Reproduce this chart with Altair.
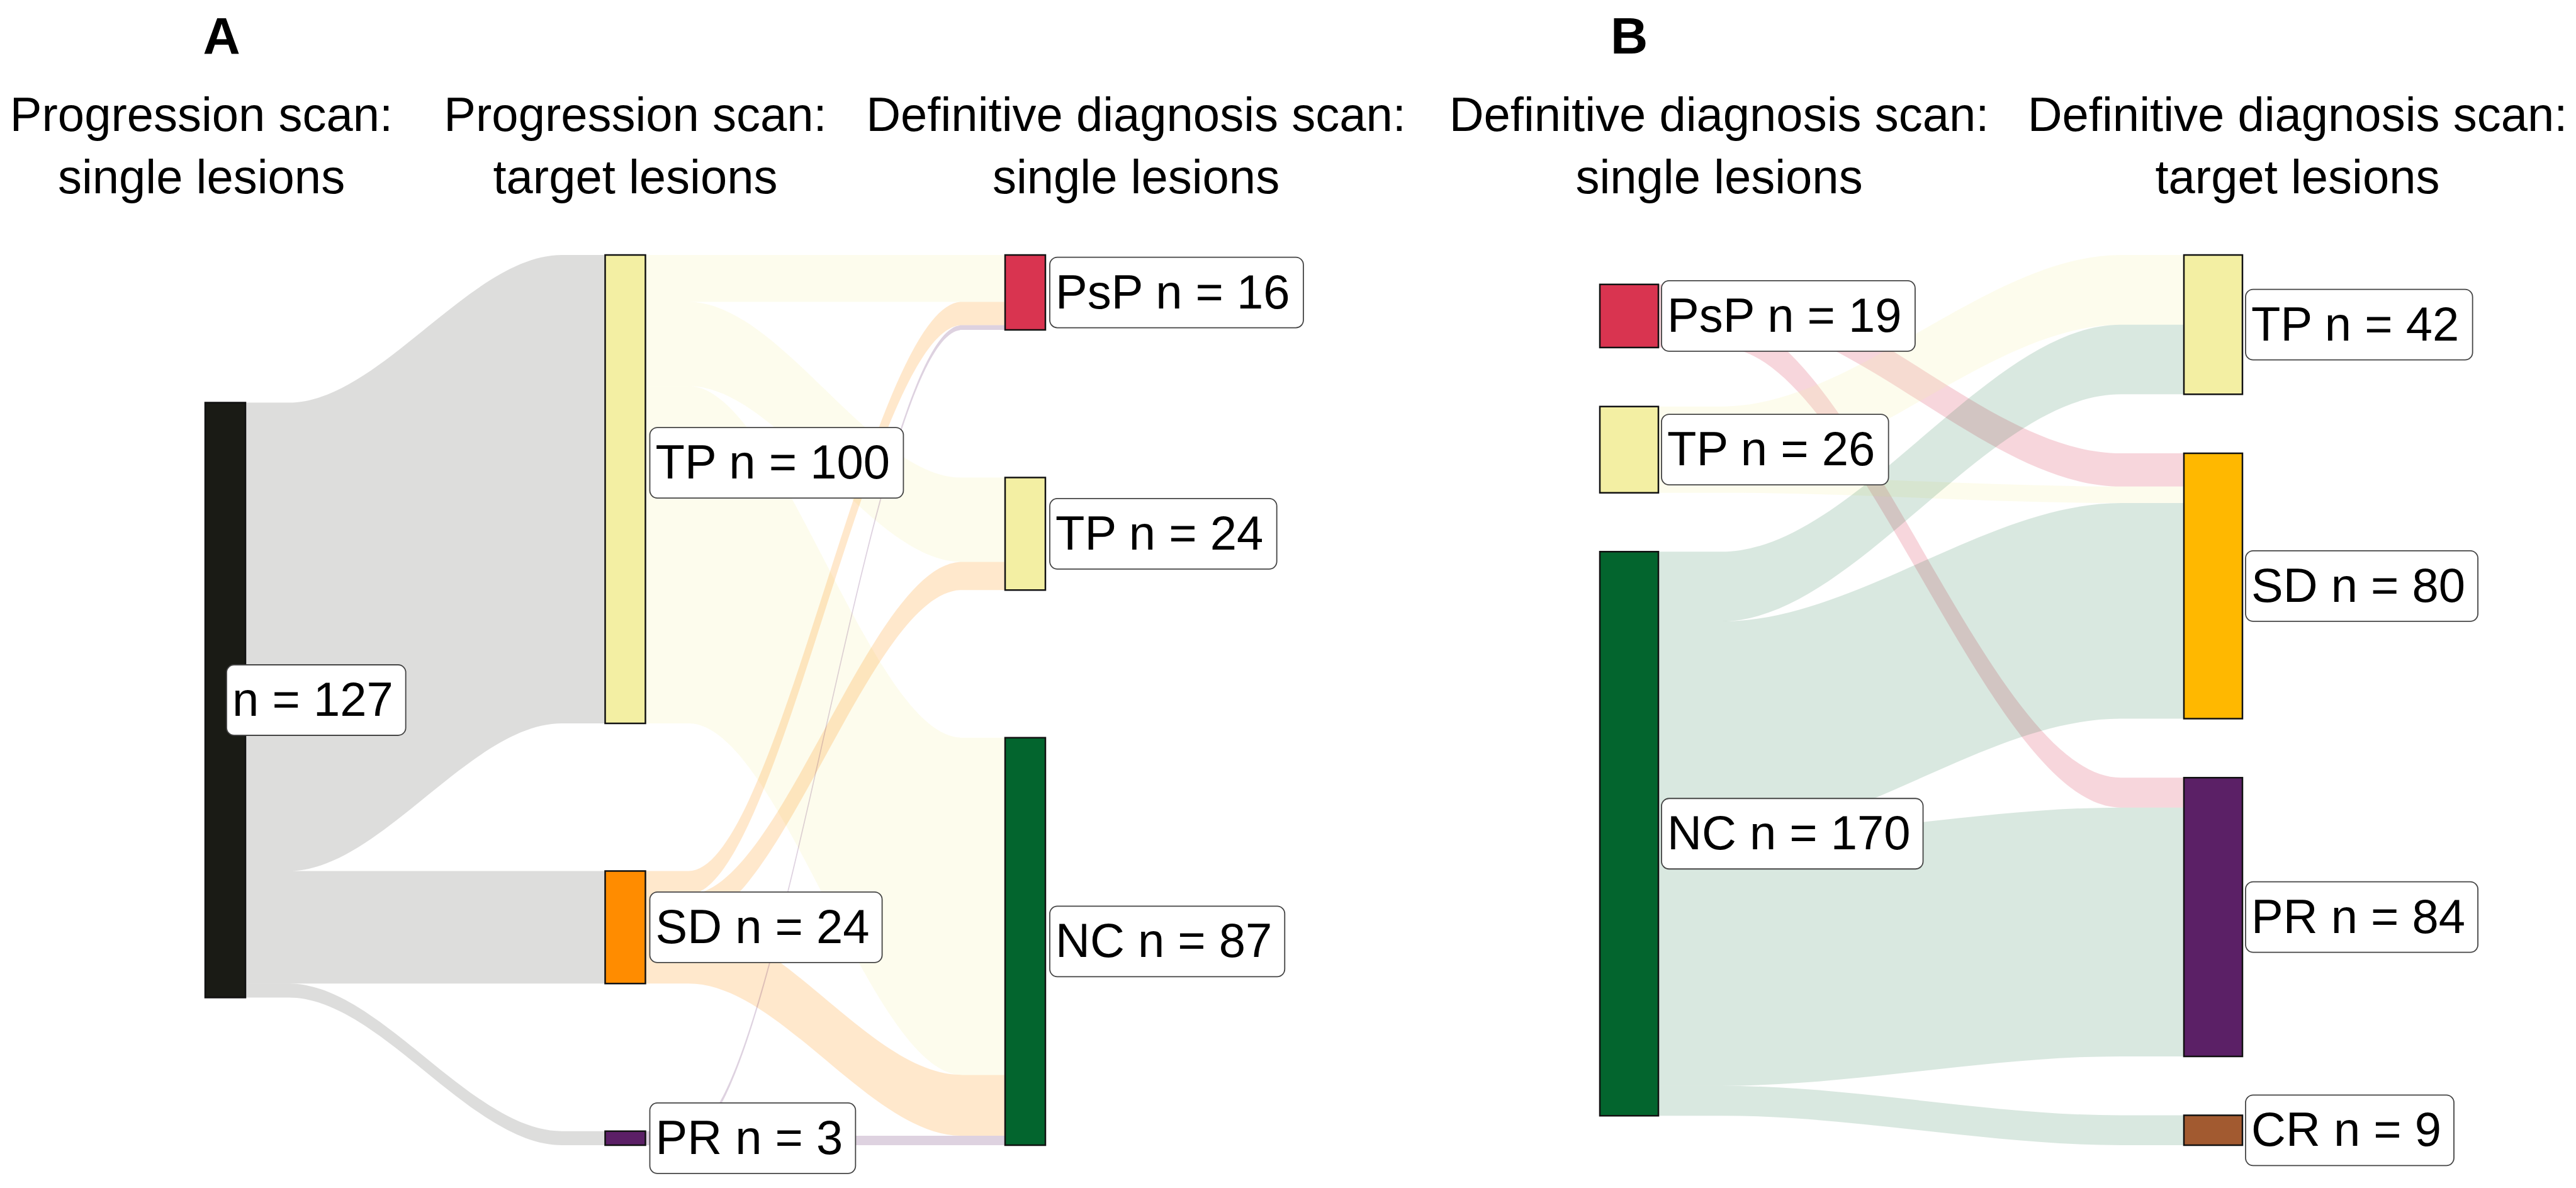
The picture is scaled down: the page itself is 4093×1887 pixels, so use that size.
import altair as alt
import pandas as pd

# ---------------- data ----------------
A_stage_titles = [("Progression scan:", "single lesions"),
                  ("Progression scan:", "target lesions"),
                  ("Definitive diagnosis scan:", "single lesions")]
A_node_stage = [0, 1, 1, 1, 2, 2, 2]
A_node_name = ["", "TP", "SD", "PR", "PsP", "TP", "NC"]
A_node_n = [127, 100, 24, 3, 16, 24, 87]
A_node_color = ["#1a1b15", "#f3efa3", "#ff8c00", "#5b1f66", "#d93450", "#f3efa3", "#03652e"]
A_link_source = [0, 0, 0, 1, 1, 1, 2, 2, 2, 3, 3]
A_link_target = [1, 2, 3, 4, 5, 6, 4, 5, 6, 4, 6]
A_link_value = [100, 24, 3, 10, 18, 72, 5, 6, 13, 1, 2]

B_stage_titles = [("Definitive diagnosis scan:", "single lesions"),
                  ("Definitive diagnosis scan:", "target lesions")]
B_node_stage = [0, 0, 0, 1, 1, 1, 1]
B_node_name = ["PsP", "TP", "NC", "TP", "SD", "PR", "CR"]
B_node_n = [19, 26, 170, 42, 80, 84, 9]
B_node_color = ["#d93450", "#f3efa3", "#03652e", "#f3efa3", "#ffb800", "#5b2066", "#a25a30"]
B_link_source = [0, 0, 1, 1, 2, 2, 2, 2]
B_link_target = [4, 5, 3, 4, 3, 4, 5, 6]
B_link_value = [10, 9, 21, 5, 21, 65, 75, 9]

# ---------------- layout / style ----------------
H = 1871
FONT = "Liberation Sans, Arial, Helvetica, sans-serif"
FS_LABEL = 76
FS_HEAD = 76
FS_TITLE = 82
LINK_OPACITY = 0.2
LINK_OPACITY_DARK = 0.15
CURVE_FLAT = 0.12
BOX_H = 112
BOX_PAD_L = 9
BOX_PAD_R = 20
HEAD_BASE = [200, 299]
TITLE_BASE = 77

LAYOUT_A = dict(width=2240, stage0_px=350, stage_px=635.5, node_w=64, gap_px=234.5,
                top_px=397, span_px=1414, label_gap=7, first_label_at_center=True,
                header_dx=[-38, 16, 176], title_dx=-6, nudge={1: -42})
LAYOUT_B = dict(width=1837, stage0_px=340.5, stage_px=928, node_w=93, gap_px=93.7,
                top_px=397, span_px=1414, label_gap=5, first_label_at_center=False,
                header_dx=[143, 134], title_dx=0, nudge={})

ARIAL_W = {' ': 278, '=': 584, 'n': 556, 's': 500, 'P': 667, 'T': 611, 'S': 667,
           'D': 722, 'R': 722, 'N': 722, 'C': 722}


def text_width(s, size):
    return sum(ARIAL_W.get(ch, 556) for ch in s) * size / 1000.0


def is_dark(hexcol):
    r, g, b = int(hexcol[1:3], 16), int(hexcol[3:5], 16), int(hexcol[5:7], 16)
    return (r + g + b) / 3 < 60


def build_panel(title, stage_titles, node_stage, node_name, node_n, node_color,
                link_source, link_target, link_value, lay):
    W = lay["width"]
    s0, sp = lay["stage0_px"], lay["stage_px"]
    top, span, gap = lay["top_px"], lay["span_px"], lay["gap_px"]
    N = len(node_n)
    n_stage = max(node_stage) + 1
    cols = [[i for i in range(N) if node_stage[i] == c] for c in range(n_stage)]
    k = min((span - (len(c) - 1) * gap) / sum(node_n[i] for i in c) for c in cols)

    ypx0 = [0.0] * N
    ypx1 = [0.0] * N
    for c in cols:
        col_h = sum(node_n[i] for i in c) * k + (len(c) - 1) * gap
        y = top + (span - col_h) / 2
        for i in c:
            ypx0[i] = y
            ypx1[i] = y + node_n[i] * k
            y = ypx1[i] + gap

    def xu(px):
        return (px - s0) / sp

    def yu(px):
        return (px - top) / k

    half = lay["node_w"] / 2
    nodes = pd.DataFrame({
        "x0": [xu(s0 + node_stage[i] * sp - half) for i in range(N)],
        "x1": [xu(s0 + node_stage[i] * sp + half) for i in range(N)],
        "y0": [yu(ypx0[i]) for i in range(N)],
        "y1": [yu(ypx1[i]) for i in range(N)],
        "color": node_color,
    })

    L = len(link_value)
    out_off = [0.0] * N
    in_off = [0.0] * N
    src_y = {}
    tgt_y = {}
    for j in sorted(range(L), key=lambda j: (link_source[j], link_target[j])):
        s = link_source[j]
        src_y[j] = ypx0[s] + out_off[s]
        out_off[s] += link_value[j] * k
    for j in sorted(range(L), key=lambda j: (link_target[j], link_source[j])):
        t = link_target[j]
        tgt_y[j] = ypx0[t] + in_off[t]
        in_off[t] += link_value[j] * k

    rows = []
    for j in range(L):
        s, t, v = link_source[j], link_target[j], link_value[j]
        xa = s0 + node_stage[s] * sp + half
        xb = s0 + node_stage[t] * sp - half
        d = xb - xa
        op = LINK_OPACITY_DARK if is_dark(node_color[s]) else LINK_OPACITY
        pts = [(xa, src_y[j]), (xa + CURVE_FLAT * d, src_y[j]),
               (xb - CURVE_FLAT * d, tgt_y[j]), (xb, tgt_y[j])]
        for xp, yp in pts:
            rows.append({"link": j, "x": xu(xp), "y0": yu(yp), "y1": yu(yp + v * k),
                         "color": node_color[s], "op": op})
    links = pd.DataFrame(rows)

    lab = []
    for i in range(N):
        text = (node_name[i] + " n = " if node_name[i] else "n = ") + str(node_n[i])
        cx = s0 + node_stage[i] * sp
        if node_stage[i] == 0 and lay["first_label_at_center"]:
            left = cx + 2
        else:
            left = cx + half + lay["label_gap"]
        cy = (ypx0[i] + ypx1[i]) / 2 + lay["nudge"].get(i, 0)
        w = text_width(text, FS_LABEL) + BOX_PAD_L + BOX_PAD_R
        lab.append(dict(bx0=xu(left), bx1=xu(left + w), by0=yu(cy - BOX_H / 2),
                        by1=yu(cy + BOX_H / 2), tx=xu(left + BOX_PAD_L), ty=yu(cy + 2),
                        label=text))
    labels = pd.DataFrame(lab)

    heads = []
    for c, (l1, l2) in enumerate(stage_titles):
        hx = xu(s0 + c * sp + lay["header_dx"][c])
        heads.append(dict(x=hx, y=yu(HEAD_BASE[0]), text=l1))
        heads.append(dict(x=hx, y=yu(HEAD_BASE[1]), text=l2))
    heads = pd.DataFrame(heads)
    tdf = pd.DataFrame([dict(x=xu(s0 + lay["title_dx"]), y=yu(TITLE_BASE), text=title)])

    xs = alt.Scale(domain=[xu(0), xu(W)], nice=False, zero=False)
    ys = alt.Scale(domain=[yu(0), yu(H)], nice=False, zero=False, reverse=True)

    link_layer = alt.Chart(links).mark_area(interpolate="monotone").encode(
        x=alt.X("x:Q", scale=xs, axis=None),
        y=alt.Y("y0:Q", scale=ys, axis=None, stack=None),
        y2="y1:Q",
        color=alt.Color("color:N", scale=None),
        opacity=alt.Opacity("op:Q", scale=None),
        detail="link:N",
    )
    node_layer = alt.Chart(nodes).mark_rect(stroke="#111111", strokeWidth=2.5).encode(
        x=alt.X("x0:Q", scale=xs, axis=None), x2="x1:Q",
        y=alt.Y("y0:Q", scale=ys, axis=None), y2="y1:Q",
        color=alt.Color("color:N", scale=None),
    )
    box_layer = alt.Chart(labels).mark_rect(fill="white", stroke="#444444", strokeWidth=1.8,
                                            cornerRadius=12).encode(
        x=alt.X("bx0:Q", scale=xs, axis=None), x2="bx1:Q",
        y=alt.Y("by0:Q", scale=ys, axis=None), y2="by1:Q",
    )
    text_layer = alt.Chart(labels).mark_text(align="left", baseline="middle", font=FONT,
                                             fontSize=FS_LABEL, color="black").encode(
        x=alt.X("tx:Q", scale=xs, axis=None),
        y=alt.Y("ty:Q", scale=ys, axis=None),
        text="label:N",
    )
    head_layer = alt.Chart(heads).mark_text(align="center", baseline="alphabetic", font=FONT,
                                            fontSize=FS_HEAD, color="black").encode(
        x=alt.X("x:Q", scale=xs, axis=None),
        y=alt.Y("y:Q", scale=ys, axis=None),
        text="text:N",
    )
    title_layer = alt.Chart(tdf).mark_text(align="center", baseline="alphabetic", font=FONT,
                                           fontSize=FS_TITLE, fontWeight="bold",
                                           color="black").encode(
        x=alt.X("x:Q", scale=xs, axis=None),
        y=alt.Y("y:Q", scale=ys, axis=None),
        text="text:N",
    )
    return alt.layer(link_layer, node_layer, box_layer, text_layer, head_layer,
                     title_layer).properties(width=W, height=H)


panel_a = build_panel("A", A_stage_titles, A_node_stage, A_node_name, A_node_n, A_node_color,
                      A_link_source, A_link_target, A_link_value, LAYOUT_A)
panel_b = build_panel("B", B_stage_titles, B_node_stage, B_node_name, B_node_n, B_node_color,
                      B_link_source, B_link_target, B_link_value, LAYOUT_B)

chart = alt.hconcat(panel_a, panel_b, spacing=0, bounds="flush", padding=0).resolve_scale(
    x="independent", y="independent").configure_view(stroke=None)

chart.save("out.html", embed_options={"renderer": "svg", "actions": False})
